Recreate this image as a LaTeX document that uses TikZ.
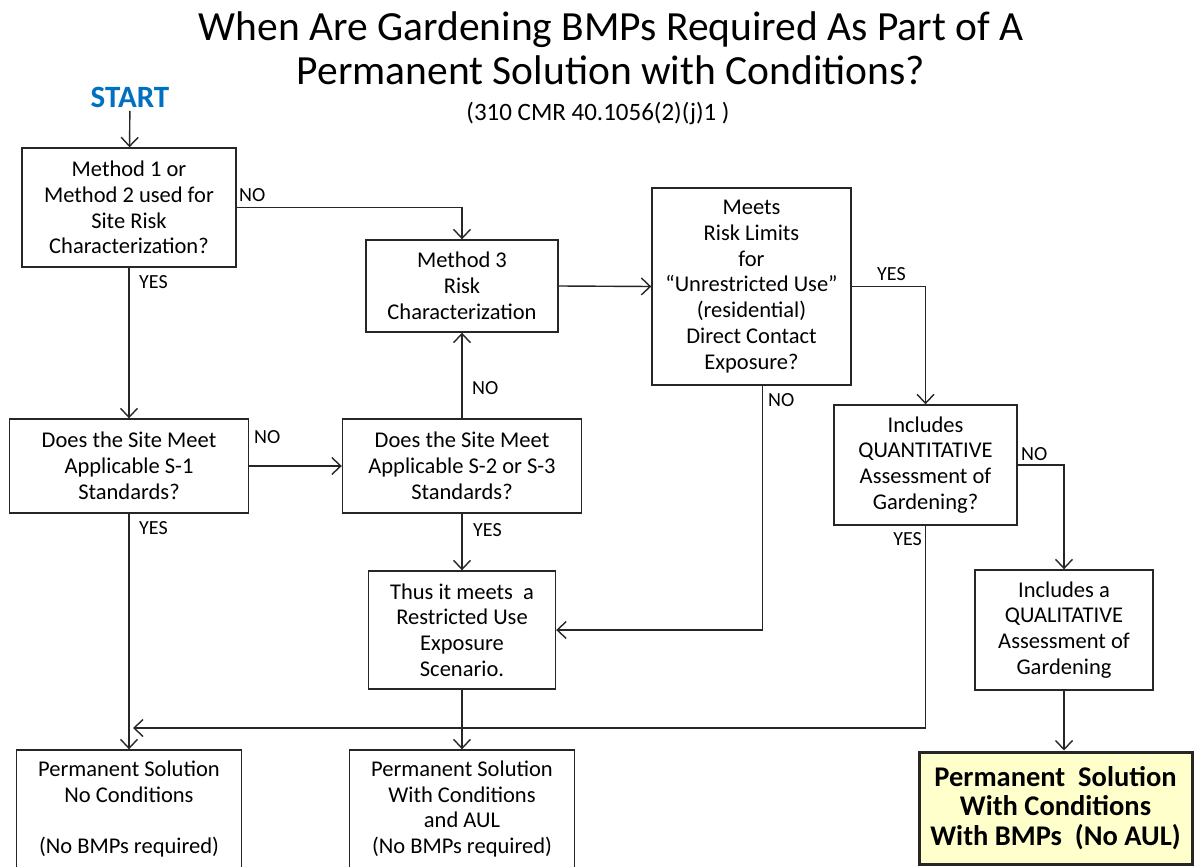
\documentclass[tikz,border=0pt]{standalone}
\usepackage{fontspec}
\setmainfont{Carlito}
\usetikzlibrary{arrows.meta, positioning}

\definecolor{startblue}{RGB}{0,112,192}
\definecolor{bmpyellow}{RGB}{255,255,204}

\tikzset{
  box/.style={draw=black!85, line width=1.4pt, align=center, inner sep=0pt,
              font=\fontsize{22.5}{25.8}\selectfont},
  lbl/.style={font=\fontsize{20}{22}\selectfont, inner sep=0pt},
  arr/.style={-{Straight Barb[length=9pt,width=17pt]}, line width=1.4pt, draw=black!85}
}

\begin{document}
\begin{tikzpicture}[x=1pt, y=-1pt]

% --- FRAME ---
\useasboundingbox (0,0) rectangle (1194,867);
\clip (0,0) rectangle (1194,867);

% --- TITLE ---
\node[font=\fontsize{41.5}{44}\selectfont, align=center] (title) at (611,48)
  {When Are Gardening BMPs Required As Part of A\\Permanent Solution with Conditions?};
\node[font=\fontsize{25}{28}\selectfont] (cmr) at (598,113) {(310 CMR 40.1056(2)(j)1 )};
\node[font=\fontsize{31}{34}\bfseries, text=startblue] (start) at (130,97) {START};

% --- 1. LEFT COLUMN ---
\node[box, minimum width=214pt, minimum height=119pt] (m12) at (129,207.5)
  {Method 1 or\\Method 2 used for\\Site Risk\\Characterization?};
\node[box, minimum width=239pt, minimum height=94pt] (s1) at (129,466)
  {Does the Site Meet\\Applicable S-1\\Standards?};
\node[box, minimum width=225pt, minimum height=118pt] (pnc) at (129,809)
  {Permanent Solution\\No Conditions\\[25.8pt](No BMPs required)};

% --- 2. MIDDLE COLUMN ---
\node[box, minimum width=192pt, minimum height=92pt] (m3) at (462,286)
  {Method 3\\Risk\\Characterization};
\node[box, minimum width=239pt, minimum height=94pt] (s23) at (462,466)
  {Does the Site Meet\\Applicable S-2 or S-3\\Standards?};
\node[box, minimum width=187pt, minimum height=118pt] (restr) at (462,630)
  {Thus it meets~~a\\Restricted Use\\Exposure\\Scenario.};
\node[box, minimum width=225pt, minimum height=118pt] (pwc) at (462,809)
  {Permanent Solution\\With Conditions\\and AUL\\(No BMPs required)};

% --- 3. RIGHT SIDE ---
\node[box, minimum width=199pt, minimum height=197pt] (risk) at (751.5,286.5)
  {Meets\\Risk Limits\\for\\``Unrestricted Use''\\(residential)\\Direct Contact\\Exposure?};
\node[box, minimum width=183pt, minimum height=120pt] (quant) at (925.5,465)
  {Includes\\QUANTITATIVE\\Assessment of\\Gardening?};
\node[box, minimum width=178pt, minimum height=120pt] (qual) at (1064,630)
  {Includes a\\QUALITATIVE\\Assessment of\\Gardening};
\node[box, line width=3pt, fill=bmpyellow, minimum width=273pt, minimum height=112pt,
      font=\fontsize{28.5}{29.5}\bfseries] (bmp) at (1055.5,808)
  {Permanent~~Solution\\With Conditions\\With BMPs~~(No AUL)};

% --- 4. CONNECTORS ---
\draw[arr] (start) -- (m12);
\draw[arr] (m12.east) -| (m3.north);
\draw[arr] (m12.south) -- (s1.north);
\draw[arr] (s1.east) -- (s23.west);
\draw[arr] (s23.north) -- (m3.south);
\draw[arr] (s23.south) -- (restr.north);
\draw[arr] (m3.east) -- (risk.west);
\draw[arr] (risk.east) -| (quant.north);
\draw[arr] (quant.east) -| (qual.north);
\draw[arr] ([xshift=11pt]risk.south) |- (restr.east);
\draw[arr] (qual.south) -- (qual.south |- bmp.north);
\draw[arr] (s1.south) -- (pnc.north);
\draw[arr] (restr.south) -- (pwc.north);
\coordinate (join) at (s1.south |- 0,728);
\draw[arr] (quant.south) |- ([xshift=4pt]join);

% --- 5. BRANCH LABELS ---
\node[lbl, anchor=west] (no1) at (239,195) {NO};
\node[lbl, anchor=west] (yes1) at (139,282) {YES};
\node[lbl, anchor=west] (no2) at (254,437) {NO};
\node[lbl, anchor=west] (yes2) at (139,528) {YES};
\node[lbl, anchor=west] (no3) at (472,388) {NO};
\node[lbl, anchor=west] (yes3) at (473,530) {YES};
\node[lbl, anchor=west] (yes4) at (877,274) {YES};
\node[lbl, anchor=west] (no4) at (768,400) {NO};
\node[lbl, anchor=west] (no5) at (1021,454) {NO};
\node[lbl, anchor=east] (yes5) at (922,539) {YES};

\end{tikzpicture}
\end{document}
